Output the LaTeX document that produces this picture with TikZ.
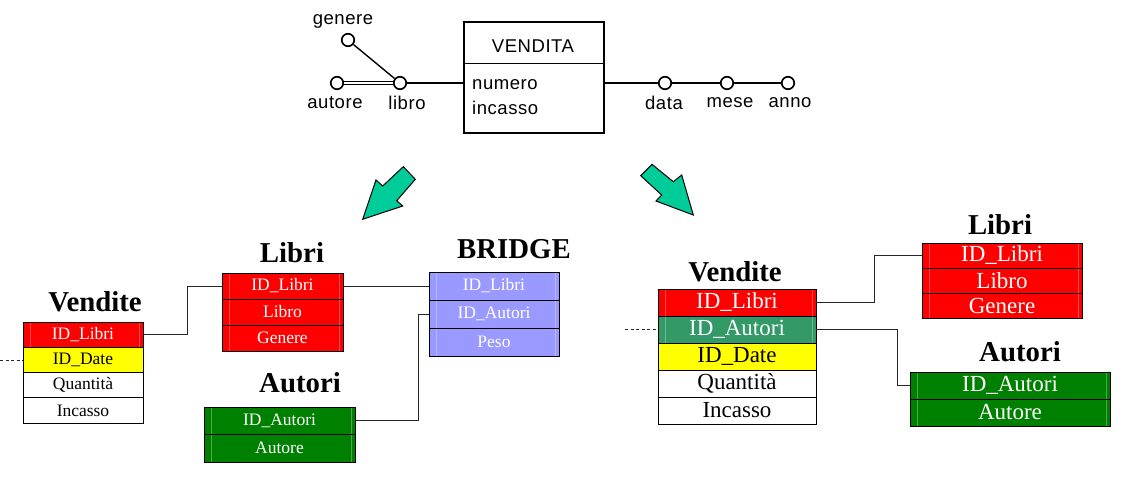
\documentclass[tikz,border=0pt]{standalone}
\usepackage{fontspec}
\setmainfont{Liberation Serif}
\newfontfamily\erfont{Liberation Sans}[LetterSpace=3]
\definecolor{cred}{HTML}{FF0000}
\definecolor{cyel}{HTML}{FFFF00}
\definecolor{cgreen}{HTML}{008000}
\definecolor{csea}{HTML}{339966}
\definecolor{cblue}{HTML}{9999FF}
\definecolor{carrow}{HTML}{00CC99}
\begin{document}
\begin{tikzpicture}[x=1pt,y=-1pt,
  cellL/.style={draw=black, line width=0.8pt, inner sep=0pt, font=\fontsize{17.5}{17.5}\selectfont},
  cellR/.style={draw=black, line width=0.8pt, inner sep=0pt, font=\fontsize{23}{23}\selectfont},
  inner lines/.style={path picture={
      \draw[white, opacity=0.3, line width=0.6pt]
        ([xshift=7pt]path picture bounding box.north west) -- ([xshift=7pt]path picture bounding box.south west)
        ([xshift=-4pt]path picture bounding box.north east) -- ([xshift=-4pt]path picture bounding box.south east);}},
  head/.style={font=\bfseries\fontsize{28.8}{29}\selectfont, inner sep=0pt},
  wtxt/.style={text=white, inner lines},
  conn/.style={draw=black!85, line width=0.9pt},
  dconn/.style={draw=black!85, line width=0.8pt, dash pattern=on 3pt off 2.5pt},
  ercirc/.style={circle, draw=black, line width=1.7pt, minimum size=12.5pt, inner sep=0pt, fill=white},
  erline/.style={line width=1.4pt},
  ertxt/.style={font=\erfont\fontsize{18.5}{19}\selectfont, inner sep=0pt},
  bigarrow/.style={fill=carrow, draw=black, line width=1pt, line join=miter}
]
\useasboundingbox (0,0) rectangle (1122,487);
\fill[white] (0,0) rectangle (1122,487);

% ---------------- ER diagram ----------------
\node[draw=black, line width=1.6pt, minimum width=140pt, minimum height=111pt, inner sep=0pt] (vbox) at (534,77.5) {};
\draw[line width=1.3pt] ([yshift=-42pt]vbox.north west) -- ([yshift=-42pt]vbox.north east);
\node[ertxt] (vtitle) at (533,46) {VENDITA};
\node[ertxt, anchor=west] (numero) at (472,85) {numero};
\node[ertxt, anchor=west] (incasso) at (472,108) {incasso};

\node[ercirc] (genere) at (348,40) {};
\node[ercirc] (autore) at (337,83) {};
\node[ercirc] (libro) at (400,83) {};
\node[ercirc] (data) at (665,83) {};
\node[ercirc] (mese) at (727,83) {};
\node[ercirc] (anno) at (788,83) {};

\node[ertxt] (tgenere) at (343,21) {genere};
\node[ertxt] (tautore) at (335,103) {autore};
\node[ertxt] (tlibro) at (407,103) {libro};
\node[ertxt] (tdata) at (664,103) {data};
\node[ertxt] (tmese) at (730,103) {mese};
\node[ertxt] (tanno) at (790,103) {anno};

\draw[erline] (genere) -- (libro);
\draw[line width=1.3pt, double, double distance=2.2pt] (autore) -- (libro);
\draw[erline] (libro) -- (vbox.west |- libro);
\draw[erline] (vbox.east |- data) -- (data);
\draw[erline] (data) -- (mese);
\draw[erline] (mese) -- (anno);

% ---------------- green arrows ----------------
\draw[bigarrow] (362.7,219.3) -- (376,180) -- (382.7,186) -- (403.3,166.7) -- (415.3,179.3) -- (396.7,200.7) -- (402.7,206) -- cycle;
\draw[bigarrow] (693.3,215) -- (656,201) -- (661.7,195) -- (640.7,175.7) -- (652,164.3) -- (673.3,181.7) -- (681.7,175) -- cycle;

% ---------------- left schema ----------------
\node[head] (hlv) at (95,302) {Vendite};
\node[cellL, fill=cred, wtxt, minimum width=120pt, minimum height=25.3pt] (lv1) at (83,334.6) {ID\_Libri};
\node[cellL, fill=cyel, minimum width=120pt, minimum height=25.3pt] (lv2) at (83,359.9) {ID\_Date};
\node[cellL, fill=white, minimum width=120pt, minimum height=25.3pt] (lv3) at (83,385.1) {Quantità};
\node[cellL, fill=white, minimum width=120pt, minimum height=25.3pt] (lv4) at (83,410.4) {Incasso};

\node[head] (hll) at (292,253) {Libri};
\node[cellL, fill=cred, wtxt, minimum width=121pt, minimum height=26pt] (ll1) at (282.5,286) {ID\_Libri};
\node[cellL, fill=cred, wtxt, minimum width=121pt, minimum height=26pt] (ll2) at (282.5,312) {Libro};
\node[cellL, fill=cred, wtxt, minimum width=121pt, minimum height=26pt] (ll3) at (282.5,338) {Genere};

\node[head] (hla) at (300,383) {Autori};
\node[cellL, fill=cgreen, wtxt, minimum width=151pt, minimum height=27.5pt] (la1) at (279.5,420.75) {ID\_Autori};
\node[cellL, fill=cgreen, wtxt, minimum width=151pt, minimum height=27.5pt] (la2) at (279.5,448.25) {Autore};

\node[head] (hbr) at (514,249) {BRIDGE};
\node[cellL, fill=cblue, wtxt, minimum width=130pt, minimum height=28pt] (br1) at (494,286) {ID\_Libri};
\node[cellL, fill=cblue, wtxt, minimum width=130pt, minimum height=28pt] (br2) at (494,314) {ID\_Autori};
\node[cellL, fill=cblue, wtxt, minimum width=130pt, minimum height=28pt] (br3) at (494,342) {Peso};

\coordinate (dl) at (0,359.9);
\draw[dconn] (dl) -- (lv2.west);
\draw[conn] (lv1.east) -- ++(44,0) |- (ll1.west);
\draw[conn] (ll1.east) -- (br1.west);
\draw[conn] (la1.east) -- ++(63,0) |- (br2.west);

% ---------------- right schema ----------------
\node[head] (hrv) at (735,272) {Vendite};
\node[cellR, fill=cred, wtxt, minimum width=158pt, minimum height=27pt] (rv1) at (737,302.5) {ID\_Libri};
\node[cellR, fill=csea, wtxt, minimum width=158pt, minimum height=27pt] (rv2) at (737,329.5) {ID\_Autori};
\node[cellR, fill=cyel, minimum width=158pt, minimum height=27pt] (rv3) at (737,356.5) {ID\_Date};
\node[cellR, fill=white, minimum width=158pt, minimum height=27pt] (rv4) at (737,383.5) {Quantità};
\node[cellR, fill=white, minimum width=158pt, minimum height=27pt] (rv5) at (737,410.5) {Incasso};

\node[head] (hrl) at (1000,225) {Libri};
\node[cellR, fill=cred, wtxt, minimum width=160pt, minimum height=25pt] (rl1) at (1002,255.5) {ID\_Libri};
\node[cellR, fill=cred, wtxt, minimum width=160pt, minimum height=25pt] (rl2) at (1002,280.5) {Libro};
\node[cellR, fill=cred, wtxt, minimum width=160pt, minimum height=25pt] (rl3) at (1002,305.5) {Genere};

\node[head] (hra) at (1020,352) {Autori};
\node[cellR, fill=cgreen, wtxt, minimum width=200pt, minimum height=27pt] (ra1) at (1010,385.5) {ID\_Autori};
\node[cellR, fill=cgreen, wtxt, minimum width=200pt, minimum height=27pt] (ra2) at (1010,412.5) {Autore};

\coordinate (dr) at (625,329.5);
\draw[dconn] (dr) -- (rv2.west);
\draw[conn] (rv1.east) -- ++(58,0) |- (rl1.west);
\draw[conn] (rv2.east) -- ++(81,0) |- (ra1.west);
\end{tikzpicture}
\end{document}
